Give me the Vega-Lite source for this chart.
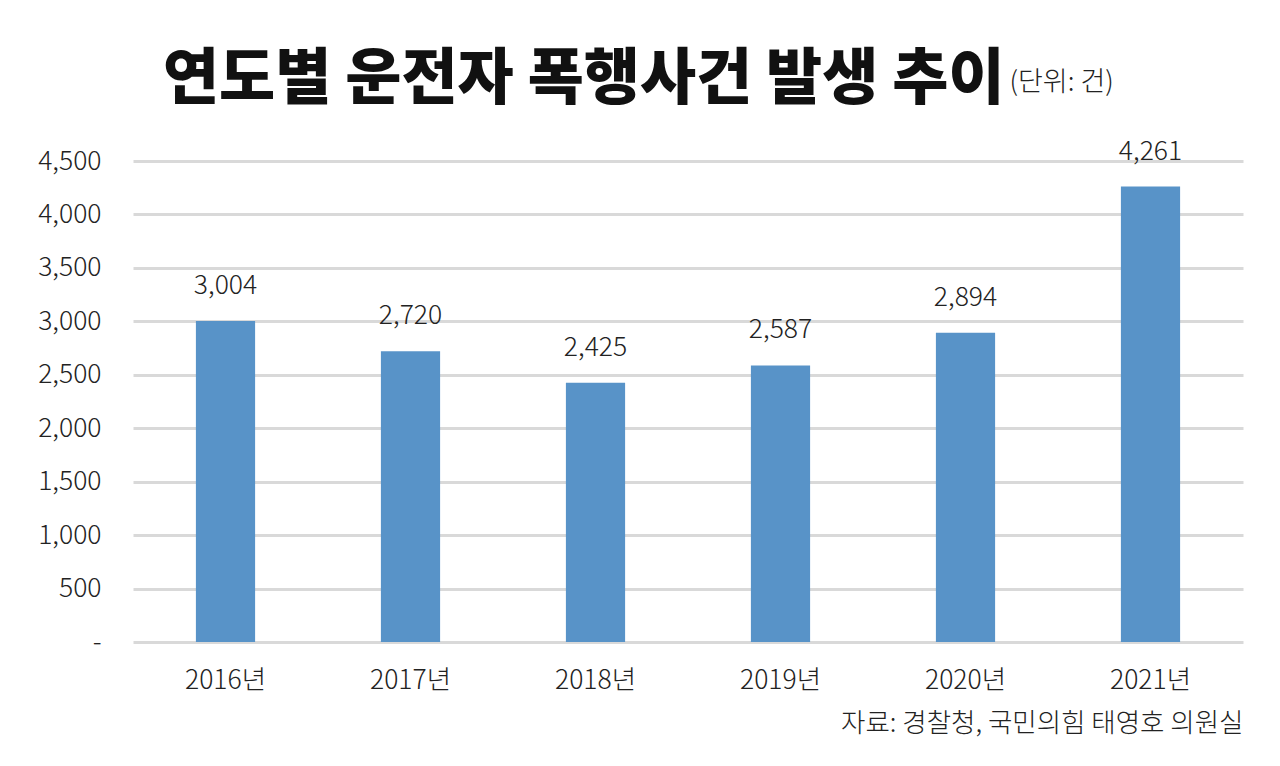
{
  "$schema": "https://vega.github.io/schema/vega-lite/v6.json",
  "description": "연도별 운전자 폭행사건 발생 추이 (단위: 건)",
  "width": 1110,
  "height": 481,
  "autosize": {"type": "none"},
  "padding": {"left": 133, "top": 161, "right": 37, "bottom": 124},
  "background": "white",
  "title": {
    "text": "연도별 운전자 폭행사건 발생 추이",
    "font": "Noto Sans CJK KR",
    "fontSize": 61,
    "fontWeight": 900,
    "color": "#111111",
    "anchor": "start",
    "frame": "group",
    "dx": 30,
    "offset": -44
  },
  "data": {
    "values": [
      {"year": "2016년", "count": 3004},
      {"year": "2017년", "count": 2720},
      {"year": "2018년", "count": 2425},
      {"year": "2019년", "count": 2587},
      {"year": "2020년", "count": 2894},
      {"year": "2021년", "count": 4261}
    ]
  },
  "encoding": {
    "x": {
      "field": "year",
      "type": "nominal",
      "sort": null,
      "scale": {"paddingInner": 0.68, "paddingOuter": 0.34},
      "axis": {
        "title": "자료: 경찰청, 국민의힘 태영호 의원실",
        "titleAnchor": "end",
        "titleAlign": "right",
        "titleFont": "Noto Sans CJK KR",
        "titleFontSize": 26.5,
        "titleFontWeight": 300,
        "titleColor": "#222222",
        "titlePadding": 17,
        "labelAngle": 0,
        "labelFont": "Noto Sans CJK KR",
        "labelFontSize": 26.5,
        "labelFontWeight": 300,
        "labelColor": "#222222",
        "labelPadding": 25,
        "domain": false,
        "ticks": false
      }
    },
    "y": {
      "field": "count",
      "type": "quantitative",
      "scale": {"domain": [0, 4500], "nice": false},
      "axis": {
        "values": [0, 500, 1000, 1500, 2000, 2500, 3000, 3500, 4000, 4500],
        "labelExpr": "datum.value == 0 ? '-' : format(datum.value, ',')",
        "title": "(단위: 건)",
        "titleAngle": 0,
        "titleAlign": "left",
        "titleBaseline": "middle",
        "titleX": 876,
        "titleY": -79,
        "titleFont": "Noto Sans CJK KR",
        "titleFontSize": 27,
        "titleFontWeight": 300,
        "titleColor": "#222222",
        "labelFont": "Noto Sans CJK KR",
        "labelFontSize": 26.5,
        "labelFontWeight": 300,
        "labelColor": "#222222",
        "labelPadding": 32,
        "domain": false,
        "ticks": false,
        "grid": true,
        "gridColor": "#d9d9d9",
        "gridWidth": 3
      }
    }
  },
  "layer": [
    {
      "mark": {"type": "bar", "color": "#5893c8"}
    },
    {
      "mark": {
        "type": "text",
        "baseline": "bottom",
        "dy": -21,
        "font": "Noto Sans CJK KR",
        "fontSize": 26.5,
        "fontWeight": 300,
        "color": "#222222"
      },
      "encoding": {
        "text": {"field": "count", "type": "quantitative", "format": ","}
      }
    }
  ],
  "config": {
    "view": {"stroke": null}
  }
}
